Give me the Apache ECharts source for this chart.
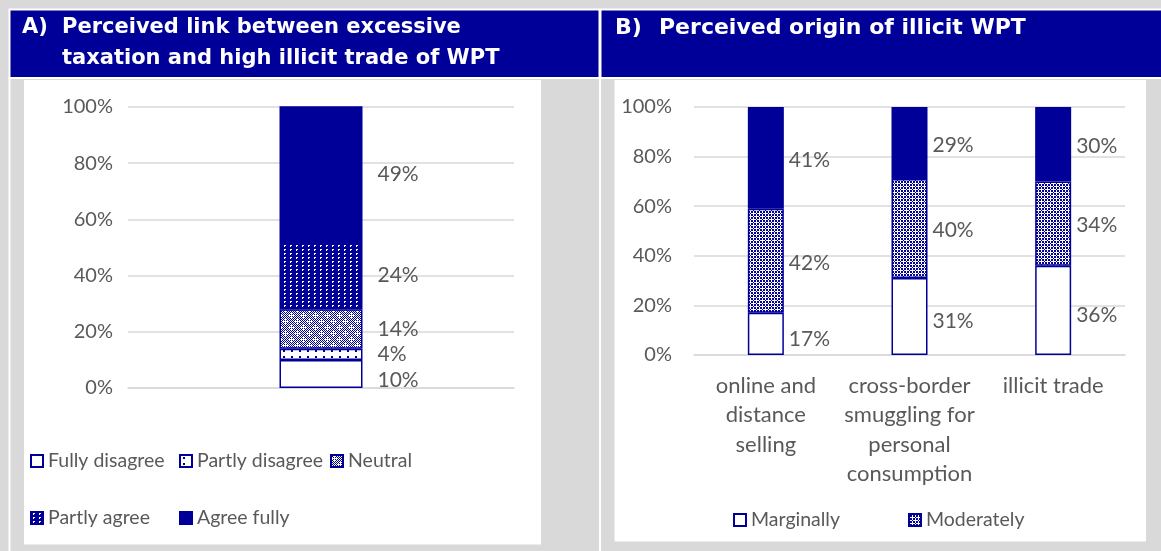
<!DOCTYPE html>
<html>
<head>
<meta charset="utf-8">
<script src="https://cdn.jsdelivr.net/npm/echarts@6/dist/echarts.min.js"></script>
<style>
  html, body { margin: 0; padding: 0; background: #d9d9d9; }
  #main { width: 1161px; height: 551px; }
</style>
</head>
<body>
<div id="main"></div>
<script>
// data - panel A (single stacked bar)
var linkNames = ['Fully disagree', 'Partly disagree', 'Neutral', 'Partly agree', 'Agree fully'];
var linkValues = [10, 4, 14, 24, 49];

// data - panel B
var originCats = ['online and\ndistance\nselling', 'cross-border\nsmuggling for\npersonal\nconsumption', 'illicit trade'];
var marginally = [17, 31, 36];
var moderately = [42, 40, 34];
var significantly = [41, 29, 30];

var NAVY = '#000099';
var TXT = '#595959';
var FONT = 'Lato';

// little canvas patterns, like the excel fills
function pattern(w, h, draw) {
  var c = document.createElement('canvas');
  c.width = w; c.height = h;
  var ctx = c.getContext('2d');
  draw(ctx);
  return { image: c, repeat: 'repeat' };
}
function px(ctx, list) {
  list.forEach(function (p) { ctx.fillRect(p[0], p[1], 1, 1); });
}
var fillDots = pattern(8, 6, function (ctx) {
  ctx.fillStyle = '#fff'; ctx.fillRect(0, 0, 8, 6);
  ctx.fillStyle = NAVY; ctx.fillRect(3, 2, 2, 2);
});
var fillNeutral = pattern(12, 12, function (ctx) {
  ctx.fillStyle = '#fff'; ctx.fillRect(0, 0, 12, 12);
  ctx.fillStyle = NAVY;
  for (var x = 0; x < 12; x++) for (var y = 0; y < 12; y++) if ((x + y) % 2 === 0) ctx.fillRect(x, y, 1, 1);
  ctx.fillStyle = '#fff';
  [[3, 3], [9, 9]].forEach(function (p) {
    ctx.fillRect(p[0] - 2, p[1], 5, 1);
    ctx.fillRect(p[0], p[1] - 2, 1, 5);
  });
});
var fillAgree = pattern(6, 4, function (ctx) {
  ctx.fillStyle = NAVY; ctx.fillRect(0, 0, 6, 4);
  ctx.fillStyle = '#fff'; px(ctx, [[2, 1], [3, 1], [2, 2]]);
});
var fillModerate = pattern(6, 6, function (ctx) {
  ctx.fillStyle = NAVY; ctx.fillRect(0, 0, 6, 6);
  ctx.fillStyle = '#fff';
  ctx.fillRect(1, 3, 5, 1);
  ctx.fillRect(3, 1, 1, 5);
  px(ctx, [[0, 0], [1, 0], [2, 0], [4, 0], [5, 0], [0, 1], [0, 2], [0, 4], [0, 5]]);
});
var linkFills = ['#fff', fillDots, fillNeutral, fillAgree, NAVY];

var chart = echarts.init(document.getElementById('main'));

var series = [];
linkNames.forEach(function (n, i) {
  series.push({
    name: n,
    type: 'bar',
    stack: 'link',
    xAxisIndex: 0,
    yAxisIndex: 0,
    barWidth: 83,
    clip: true,
    data: [linkValues[i]],
    itemStyle: { color: linkFills[i], borderColor: NAVY, borderWidth: 1.5 },
    label: {
      show: true, position: 'right', distance: 15,
      offset: i === 0 ? [0, 6] : [0, 0],
      formatter: '{c}%', color: TXT, fontSize: 21, fontFamily: FONT
    }
  });
});
var originSeries = [
  { name: 'Marginally', data: marginally, color: '#fff', off: [0, 5] },
  { name: 'Moderately', data: moderately, color: fillModerate, off: [0, 2] },
  { name: 'Significantly', data: significantly, color: NAVY, off: [0, 2] }
];
originSeries.forEach(function (s) {
  series.push({
    name: s.name,
    type: 'bar',
    stack: 'origin',
    xAxisIndex: 1,
    yAxisIndex: 1,
    barWidth: 36,
    data: s.data,
    itemStyle: { color: s.color, borderColor: NAVY, borderWidth: 1.5 },
    label: {
      show: true, position: 'right', distance: 5, offset: s.off,
      formatter: '{c}%', color: TXT, fontSize: 21, fontFamily: FONT
    }
  });
});

function legendItem(name, left, top) {
  return {
    data: [name], left: left, top: top, padding: 0,
    itemWidth: 12, itemHeight: 12, icon: 'rect', selectedMode: false,
    textStyle: { color: TXT, fontSize: 19.5, fontFamily: FONT, lineHeight: 20 }
  };
}

function yAxis(gridIndex, margin) {
  return {
    type: 'value', gridIndex: gridIndex, min: 0, max: 100, interval: 20,
    axisLabel: { formatter: '{value}%', color: TXT, fontSize: 20, fontFamily: FONT, margin: margin },
    splitLine: { lineStyle: { color: '#d9d9d9', width: 1.5 } },
    axisLine: { show: false }, axisTick: { show: false }
  };
}

function headText(x, y, text, size) {
  return {
    type: 'text', z: 10, x: x, y: y,
    style: { text: text, fill: '#fff', font: 'bold ' + size + 'px "DejaVu Sans"', verticalAlign: 'middle' }
  };
}

var option = {
  backgroundColor: '#d9d9d9',
  animation: false,
  graphic: [
    { type: 'rect', z: -10, shape: { x: 8.5, y: 8.5, width: 1153, height: 70.5 }, style: { fill: '#fff' } },
    { type: 'rect', z: -10, shape: { x: 8.5, y: 77, width: 2, height: 474 }, style: { fill: '#fff' } },
    { type: 'rect', z: -10, shape: { x: 599, y: 77, width: 2, height: 474 }, style: { fill: '#fff' } },
    { type: 'rect', z: -9, shape: { x: 10.5, y: 10.5, width: 588, height: 66.5 }, style: { fill: NAVY } },
    { type: 'rect', z: -9, shape: { x: 601.5, y: 10.5, width: 560, height: 66.5 }, style: { fill: NAVY } },
    { type: 'rect', z: -9, shape: { x: 24, y: 80, width: 517, height: 464.5 }, style: { fill: '#fff' } },
    { type: 'rect', z: -9, shape: { x: 614.5, y: 80, width: 531.5, height: 461.5 }, style: { fill: '#fff' } },
    headText(22, 28, 'A)', 21),
    headText(62, 28, 'Perceived link between excessive', 21),
    headText(62, 59, 'taxation and high illicit trade of WPT', 21),
    headText(615, 28, 'B)', 22),
    headText(659, 28, 'Perceived origin of illicit WPT', 22)
  ],
  legend: [
    legendItem('Fully disagree', 30, 451),
    legendItem('Partly disagree', 179, 451),
    legendItem('Neutral', 330, 451),
    legendItem('Partly agree', 30, 508),
    legendItem('Agree fully', 179, 508),
    legendItem('Marginally', 733, 510),
    legendItem('Moderately', 908, 510)
  ],
  grid: [
    { left: 128, right: 647, top: 107, bottom: 163 },
    { left: 694, right: 36, top: 107, bottom: 196 }
  ],
  xAxis: [
    {
      type: 'category', gridIndex: 0, data: [''],
      axisLine: { lineStyle: { color: '#d9d9d9', width: 1.5 } },
      axisTick: { show: false }, axisLabel: { show: false }
    },
    {
      type: 'category', gridIndex: 1, data: originCats,
      axisLine: { lineStyle: { color: '#d9d9d9', width: 1.5 } },
      axisTick: { show: false },
      axisLabel: { color: TXT, fontSize: 22, fontFamily: FONT, lineHeight: 29.5, margin: 16, interval: 0 }
    }
  ],
  yAxis: [yAxis(0, 15), yAxis(1, 22)],
  series: series
};
chart.setOption(option);
</script>
</body>
</html>
